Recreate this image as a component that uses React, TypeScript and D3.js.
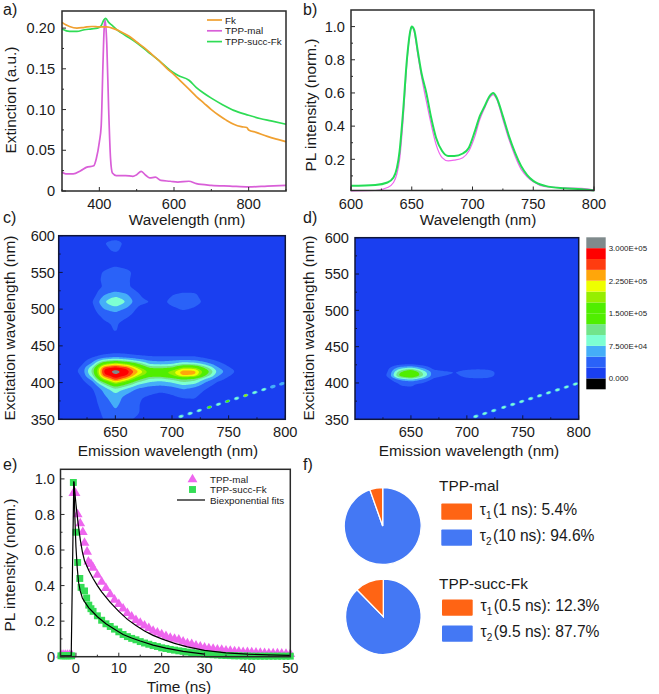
import * as d3 from 'd3';

const FONT = '"Liberation Sans", Arial, sans-serif';
const INK = '#2a2a2a';

// a) extinction spectra
const FK_NM = [300, 310, 320, 340, 360, 380, 400, 420, 440, 460, 480, 500, 520, 540, 560, 580, 600, 620, 640, 660, 680, 700, 720, 740, 760, 780, 795, 800, 820, 850, 880, 900];
const FK_EXT = [0.207, 0.204, 0.202, 0.2, 0.201, 0.202, 0.2015, 0.2015, 0.199, 0.195, 0.19, 0.183, 0.176, 0.168, 0.16, 0.151, 0.143, 0.134, 0.125, 0.116, 0.108, 0.1, 0.093, 0.087, 0.082, 0.079, 0.078, 0.075, 0.072, 0.067, 0.063, 0.0605];
const MAL_NM = [300, 310, 330, 350, 365, 385, 392, 400, 405, 410, 413, 416, 420, 425, 430, 435, 445, 470, 490, 500, 512, 525, 535, 550, 565, 590, 610, 640, 660, 700, 750, 800, 850, 900];
const MAL_EXT = [0.023, 0.021, 0.021, 0.025, 0.029, 0.031, 0.04, 0.06, 0.08, 0.16, 0.2, 0.21, 0.18, 0.1, 0.04, 0.022, 0.019, 0.019, 0.018, 0.02, 0.024, 0.019, 0.016, 0.017, 0.013, 0.012, 0.011, 0.012, 0.009, 0.007, 0.006, 0.005, 0.006, 0.007];
const SUCC_NM = [300, 320, 340, 360, 380, 395, 405, 412, 417, 425, 435, 450, 470, 500, 530, 560, 590, 610, 640, 660, 680, 700, 730, 760, 800, 830, 860, 900];
const SUCC_EXT = [0.199, 0.196, 0.196, 0.198, 0.199, 0.2, 0.203, 0.21, 0.212, 0.207, 0.203, 0.197, 0.191, 0.182, 0.171, 0.16, 0.148, 0.142, 0.136, 0.127, 0.12, 0.114, 0.106, 0.099, 0.093, 0.089, 0.086, 0.082];

// b) emission spectra
const PL_NM = [600, 620, 630, 635, 640, 643, 646, 649, 650, 652, 655, 658, 662, 666, 670, 675, 680, 685, 692, 697, 702, 706, 710, 714, 717, 720, 725, 730, 735, 740, 745, 750, 760, 775, 790, 800];
const PL_MAL = [0.01, 0.012, 0.03, 0.06, 0.2, 0.45, 0.78, 0.98, 1, 0.97, 0.83, 0.7, 0.55, 0.41, 0.29, 0.21, 0.19, 0.195, 0.21, 0.25, 0.34, 0.44, 0.51, 0.57, 0.59, 0.56, 0.44, 0.32, 0.22, 0.14, 0.095, 0.065, 0.035, 0.028, 0.025, 0.015];
const PL_SUCC = [0.04, 0.045, 0.06, 0.09, 0.25, 0.5, 0.8, 0.98, 1, 0.98, 0.85, 0.72, 0.6, 0.45, 0.33, 0.25, 0.22, 0.22, 0.235, 0.27, 0.37, 0.46, 0.52, 0.58, 0.6, 0.57, 0.46, 0.34, 0.24, 0.16, 0.105, 0.07, 0.04, 0.025, 0.02, 0.012];

// c, d) excitation-emission maps, values in thousands of counts
const EM_NM = [600, 610, 620, 630, 640, 650, 660, 670, 680, 690, 700, 710, 720, 730, 740, 750, 760, 770, 780, 790, 800];
const EXC_NM = [350, 360, 370, 380, 390, 395, 400, 405, 410, 415, 420, 425, 430, 435, 440, 450, 460, 470, 480, 490, 500, 510, 520, 530, 540, 550, 560, 570, 580, 590, 600];
const BG = [10, 10, 10, 10, 10, 10, 10, 10, 10, 10, 10, 10, 10, 10, 10, 10, 10, 10, 10, 10, 10];
const MAP_C = [
  [10, 10, 10, 12, 26, 30, 28, 22, 12, 10, 10, 10, 10, 10, 10, 10, 10, 10, 10, 10, 10],
  [10, 10, 10, 13, 30, 48, 34, 27, 12, 10, 10, 10, 10, 10, 10, 10, 10, 10, 10, 10, 10],
  [10, 10, 10, 15, 36, 56, 36, 27, 14, 10, 12, 13, 18, 10, 10, 10, 10, 10, 10, 10, 10],
  [10, 10, 11, 16, 45, 64, 40, 28, 22, 17, 21, 27, 27, 14, 10, 10, 10, 10, 10, 10, 10],
  [10, 10, 12, 22, 56, 88, 64, 42, 33, 29, 33, 47, 37, 23, 12, 10, 10, 10, 10, 10, 10],
  [10, 10, 12, 28, 76, 132, 96, 62, 50, 46, 52, 66, 56, 31, 15, 11, 10, 10, 10, 10, 10],
  [10, 10, 15, 40, 120, 205, 150, 92, 72, 64, 74, 96, 86, 46, 22, 12, 10, 10, 10, 10, 10],
  [10, 11, 20, 62, 200, 275, 225, 142, 95, 90, 108, 130, 115, 70, 36, 18, 11, 10, 10, 10, 10],
  [11, 13, 26, 95, 270, 298, 280, 200, 150, 150, 176, 235, 225, 126, 56, 28, 13, 10, 10, 10, 10],
  [12, 16, 30, 110, 285, 312, 290, 230, 166, 160, 190, 245, 240, 150, 70, 36, 16, 10, 10, 10, 10],
  [11, 14, 28, 100, 270, 288, 268, 195, 125, 120, 130, 190, 185, 115, 55, 28, 13, 10, 10, 10, 10],
  [10, 12, 20, 60, 180, 220, 190, 130, 75, 70, 75, 100, 95, 65, 36, 18, 11, 10, 10, 10, 10],
  [10, 11, 14, 38, 90, 110, 90, 66, 48, 44, 48, 54, 50, 36, 22, 12, 10, 10, 10, 10, 10],
  [10, 10, 12, 22, 36, 44, 38, 32, 28, 27, 27, 28, 27, 18, 12, 10, 10, 10, 10, 10, 10],
  [10, 10, 10, 13, 20, 24, 22, 18, 14, 12, 12, 12, 12, 10, 10, 10, 10, 10, 10, 10, 10],
  BG,
  BG,
  [10, 10, 10, 10, 14, 27, 12, 10, 10, 10, 10, 10, 10, 10, 10, 10, 10, 10, 10, 10, 10],
  [10, 10, 10, 10, 20, 29, 14, 10, 10, 10, 10, 10, 10, 10, 10, 10, 10, 10, 10, 10, 10],
  [10, 10, 10, 12, 30, 38, 28, 12, 10, 10, 10, 10, 10, 10, 10, 10, 10, 10, 10, 10, 10],
  [10, 10, 10, 18, 50, 60, 45, 20, 12, 12, 20, 28, 22, 12, 10, 10, 10, 10, 10, 10, 10],
  [10, 10, 10, 24, 72, 105, 72, 32, 26, 18, 32, 36, 33, 20, 10, 10, 10, 10, 10, 10, 10],
  [10, 10, 10, 14, 48, 62, 52, 28, 12, 10, 24, 30, 29, 12, 10, 10, 10, 10, 10, 10, 10],
  [10, 10, 10, 10, 28, 32, 30, 14, 10, 10, 10, 10, 10, 10, 10, 10, 10, 10, 10, 10, 10],
  [10, 10, 10, 14, 30, 38, 30, 12, 10, 10, 10, 10, 10, 10, 10, 10, 10, 10, 10, 10, 10],
  [10, 10, 10, 12, 28, 40, 34, 12, 10, 10, 10, 10, 10, 10, 10, 10, 10, 10, 10, 10, 10],
  [10, 10, 10, 10, 14, 22, 14, 10, 10, 10, 10, 10, 10, 10, 10, 10, 10, 10, 10, 10, 10],
  [10, 10, 10, 10, 10, 12, 10, 10, 10, 10, 10, 10, 10, 10, 10, 10, 10, 10, 10, 10, 10],
  [10, 10, 10, 10, 18, 30, 14, 10, 10, 10, 10, 10, 10, 10, 10, 10, 10, 10, 10, 10, 10],
  [10, 10, 10, 10, 24, 36, 18, 10, 10, 10, 10, 10, 10, 10, 10, 10, 10, 10, 10, 10, 10],
  BG,
];
const MAP_D = [
  BG, BG, BG, BG, BG,
  [10, 10, 10, 10, 24, 27, 12, 10, 10, 10, 10, 10, 10, 10, 10, 10, 10, 10, 10, 10, 10],
  [10, 10, 10, 10, 27, 30, 25, 10, 10, 10, 10, 10, 10, 10, 10, 10, 10, 10, 10, 10, 10],
  [10, 10, 10, 16, 55, 75, 48, 20, 12, 12, 18, 20, 18, 10, 10, 10, 10, 10, 10, 10, 10],
  [10, 10, 10, 30, 140, 185, 110, 35, 26, 20, 34, 38, 34, 14, 10, 10, 10, 10, 10, 10, 10],
  [10, 10, 10, 25, 120, 180, 100, 38, 30, 26, 36, 40, 36, 14, 10, 10, 10, 10, 10, 10, 10],
  [10, 10, 10, 22, 70, 90, 55, 18, 12, 12, 18, 20, 18, 10, 10, 10, 10, 10, 10, 10, 10],
  [10, 10, 10, 10, 22, 26, 18, 10, 10, 10, 10, 10, 10, 10, 10, 10, 10, 10, 10, 10, 10],
  BG, BG, BG, BG, BG, BG, BG, BG, BG, BG, BG, BG, BG, BG, BG, BG, BG, BG, BG,
];
const SPOT_EM = [708, 716, 724, 733, 741, 749, 757, 765, 773, 781, 789, 797];
const SPOT_C = [90, 90, 85, 150, 95, 170, 90, 175, 80, 85, 70, 65];
const SPOT_D = [85, 85, 85, 85, 85, 85, 85, 85, 85, 85, 80, 75];

const BAND_LOW = [-25, 0, 25, 50, 75, 100, 125, 150, 175, 200, 225, 250, 275, 300];
const BAND_COLORS = ['#000000', '#1a3ff0', '#2a62f8', '#45aef8', '#7dffd2', '#72e48a', '#50ee00', '#50ee00', '#96ee00', '#eeff00', '#ffa60a', '#ff3c10', '#ff0000', '#7f8a8c'];
const BAR_TICKS = [300, 225, 150, 75, 0];
const BAR_LABELS = ['3.000E+05', '2.250E+05', '1.500E+05', '7.500E+04', '0.000'];

// e) decay traces
const DECAY_T_MAL = [-3.5, -3, -2.5, -2, -1.5, -1, -0.6, -0.1, 0.4, 1, 1.6, 2, 2.6, 2.9, 3.5, 4, 5, 6, 7, 8, 9, 10, 11, 12, 13, 14, 15, 16, 17, 18, 19, 20, 21, 22, 23, 24, 25, 26, 27, 28, 29, 30, 31, 32, 33, 34, 35, 36, 37, 38, 39, 40, 41, 42, 43, 44, 45, 46, 47, 48, 49, 50];
const DECAY_MAL = [0.01, 0.01, 0.01, 0.01, 0.01, 0.01, 0.92, 0.92, 0.8, 0.75, 0.7, 0.64, 0.59, 0.535, 0.52, 0.5, 0.46, 0.42, 0.385, 0.35, 0.32, 0.295, 0.27, 0.245, 0.225, 0.205, 0.19, 0.175, 0.16, 0.145, 0.135, 0.125, 0.115, 0.105, 0.1, 0.095, 0.085, 0.075, 0.07, 0.062, 0.056, 0.05, 0.047, 0.044, 0.04, 0.038, 0.034, 0.032, 0.03, 0.028, 0.026, 0.025, 0.024, 0.022, 0.021, 0.02, 0.019, 0.018, 0.018, 0.017, 0.016, 0.015];
const DECAY_T_SUCC = [-3.5, -3, -2.5, -2, -1.5, -1, -0.6, 0, 0.4, 0.9, 1.2, 2, 2.5, 3, 3.5, 4, 5, 6, 7, 8, 9, 10, 11, 12, 13, 14, 15, 16, 17, 18, 19, 20, 21, 22, 23, 24, 25, 26, 27, 28, 29, 30, 31, 32, 33, 34, 35, 36, 37, 38, 39, 40, 41, 42, 43, 44, 45, 46, 47, 48, 49, 50];
const DECAY_SUCC = [0.005, 0.005, 0.005, 0.005, 0.005, 0.005, 0.98, 0.7, 0.53, 0.44, 0.39, 0.37, 0.33, 0.29, 0.27, 0.255, 0.23, 0.205, 0.185, 0.17, 0.155, 0.14, 0.125, 0.113, 0.103, 0.095, 0.085, 0.077, 0.07, 0.063, 0.057, 0.05, 0.046, 0.041, 0.037, 0.033, 0.03, 0.026, 0.023, 0.02, 0.017, 0.015, 0.013, 0.011, 0.01, 0.008, 0.007, 0.006, 0.005, 0.005, 0.004, 0.004, 0.003, 0.003, 0.003, 0.003, 0.003, 0.003, 0.003, 0.003, 0.003, 0.003];
const FIT_T_MAL = [-3.5, -1.1, -0.5, 0, 0.5, 1, 1.5, 2, 3, 4, 5, 6, 7, 8, 10, 12, 14, 16, 18, 20, 23, 26, 30, 35, 40, 45, 50];
const FIT_MAL = [0.005, 0.005, 0.985, 0.86, 0.75, 0.66, 0.59, 0.54, 0.485, 0.44, 0.4, 0.365, 0.335, 0.305, 0.255, 0.21, 0.175, 0.145, 0.12, 0.1, 0.075, 0.055, 0.036, 0.022, 0.014, 0.01, 0.008];
const FIT_T_SUCC = [-0.5, -0.2, 0, 0.3, 0.6, 1, 1.5, 2, 3, 4, 5, 7, 9, 11, 13, 15, 18, 21, 25, 30];
const FIT_SUCC = [0.985, 0.75, 0.62, 0.5, 0.42, 0.37, 0.33, 0.31, 0.275, 0.25, 0.225, 0.185, 0.155, 0.125, 0.105, 0.088, 0.065, 0.048, 0.03, 0.015];

// f) amplitude shares
const SHARE_MAL = [94.6, 5.4];
const SHARE_SUCC = [87.7, 12.3];
const SHARE_COLORS = ['#4478f4', '#ff6414'];

type Box = { l: number; r: number; t: number; b: number };
type Scale = d3.ScaleLinear<number, number>;

const linePath = (x: Scale, y: Scale, xs: number[], ys: number[]) =>
  d3.line<number>()
    .x((d) => x(d))
    .y((_, i) => y(ys[i]))
    .curve(d3.curveMonotoneX)(xs) ?? '';

function Label({ x, y, size = 15.4, anchor = 'middle', rotate, children }: any) {
  return (
    <text
      x={x}
      y={y}
      fontSize={size}
      textAnchor={anchor}
      fill="#1a1a1a"
      transform={rotate ? `rotate(-90 ${x} ${y})` : undefined}
    >
      {children}
    </text>
  );
}

function Frame({ box, x, y, xTicks, yTicks, xMinor = [], yMinor = [], xFmt, yFmt, xBase, yRight, frame = INK }: any) {
  return (
    <g>
      <rect x={box.l} y={box.t} width={box.r - box.l} height={box.b - box.t} fill="none" stroke={frame} strokeWidth={1.5} />
      {xTicks.map((t: number) => <line key={t} x1={x(t)} x2={x(t)} y1={box.b} y2={box.b - 4} stroke={frame} />)}
      {xMinor.map((t: number) => <line key={t} x1={x(t)} x2={x(t)} y1={box.b} y2={box.b - 2} stroke={frame} />)}
      {yTicks.map((t: number) => <line key={t} x1={box.l} x2={box.l + 4} y1={y(t)} y2={y(t)} stroke={frame} />)}
      {yMinor.map((t: number) => <line key={t} x1={box.l} x2={box.l + 2} y1={y(t)} y2={y(t)} stroke={frame} />)}
      {xTicks.map((t: number) => <Label key={t} x={x(t)} y={xBase} size={14.6}>{xFmt(t)}</Label>)}
      {yTicks.map((t: number) => <Label key={t} x={yRight} y={y(t) + 5.2} size={14.6} anchor="end">{yFmt(t)}</Label>)}
    </g>
  );
}

// Puts the read grid on a 1 nm lattice so the contour bands come out smooth
function fineGrid(map: number[][]) {
  const w = 201;
  const h = 251;
  const data = new Float64Array(w * h);
  const emAt = d3.scaleLinear().domain(EM_NM).range(EM_NM.map((_, i) => i));
  const excAt = d3.scaleLinear().domain(EXC_NM).range(EXC_NM.map((_, i) => i));
  for (let j = 0; j < h; j++) {
    const fy = excAt(350 + j);
    const y0 = Math.min(Math.floor(fy), EXC_NM.length - 2);
    for (let i = 0; i < w; i++) {
      const fx = emAt(600 + i);
      const x0 = Math.min(Math.floor(fx), EM_NM.length - 2);
      const top = d3.interpolateNumber(map[y0][x0], map[y0][x0 + 1])(fx - x0);
      const bot = d3.interpolateNumber(map[y0 + 1][x0], map[y0 + 1][x0 + 1])(fx - x0);
      data[j * w + i] = top + (bot - top) * (fy - y0);
    }
  }
  d3.blur2({ data, width: w, height: h }, 1);
  return { data, w, h };
}

function bandColor(v: number) {
  return BAND_COLORS[d3.bisectRight(BAND_LOW, v) - 1];
}

function EemMap({ id, box, map, spots }: { id: string; box: Box; map: number[][]; spots: number[] }) {
  const x = d3.scaleLinear().domain([600, 800]).range([box.l, box.r]);
  const y = d3.scaleLinear().domain([350, 600]).range([box.b, box.t]);
  const { data, w, h } = fineGrid(map);
  const levels = BAND_LOW.slice(2);
  const bands = d3.contours().size([w, h]).thresholds(levels)(Array.from(data));
  const path = d3.geoPath(d3.geoTransform({
    point(px: number, py: number) {
      (this as any).stream.point(x(600 + px - 0.5), y(350 + py - 0.5));
    },
  }));
  return (
    <g>
      <clipPath id={id}><rect x={box.l} y={box.t} width={box.r - box.l} height={box.b - box.t} /></clipPath>
      <g clipPath={`url(#${id})`}>
        <rect x={box.l} y={box.t} width={box.r - box.l} height={box.b - box.t} fill={BAND_COLORS[1]} />
        {bands.map((b) => <path key={b.value} d={path(b) ?? ''} fill={bandColor(b.value)} />)}
        {SPOT_EM.map((em, i) => (
          <g key={em} transform={`translate(${x(em)} ${y(em / 2)}) rotate(-14)`}>
            <ellipse rx={2.9} ry={1.6} fill={BAND_COLORS[3]} />
            <ellipse rx={1.9} ry={1.1} fill={bandColor(spots[i])} />
          </g>
        ))}
      </g>
    </g>
  );
}

function Pie({ cx, cy, r, shares }: { cx: number; cy: number; r: number; shares: number[] }) {
  const slices = d3.pie<number>().sort(null)(shares);
  const arc = d3.arc<d3.PieArcDatum<number>>().innerRadius(0).outerRadius(r);
  return (
    <g transform={`translate(${cx} ${cy})`}>
      {slices.map((s, i) => <path key={i} d={arc(s) ?? ''} fill={SHARE_COLORS[i]} stroke="#fff" strokeWidth={1.3} />)}
    </g>
  );
}

function TauRow({ x, y, colorIndex, sub, text }: any) {
  return (
    <g>
      <rect x={x} y={y - 11.5} width={30.7} height={16.2} rx={1} fill={SHARE_COLORS[colorIndex]} />
      <text x={x + 38.5} y={y} fontSize={15.6} fill="#1a1a1a">
        τ<tspan fontSize={10} dy={4}>{sub}</tspan><tspan dy={-4} dx={1.5}>{text}</tspan>
      </text>
    </g>
  );
}

export default function App() {
  const boxA = { l: 62, r: 286, t: 11, b: 191 };
  const ax = d3.scaleLinear().domain([300, 900]).range([boxA.l, boxA.r]);
  const ay = d3.scaleLinear().domain([0, 0.221]).range([boxA.b, boxA.t]);

  const boxB = { l: 351, r: 594, t: 10, b: 190.5 };
  const bx = d3.scaleLinear().domain([600, 800]).range([boxB.l, boxB.r]);
  const by = d3.scaleLinear().domain([0.012, 1.1]).range([boxB.b, boxB.t]);

  const boxC = { l: 58.7, r: 285.3, t: 235.7, b: 419.3 };
  const cx = d3.scaleLinear().domain([600, 800]).range([boxC.l, boxC.r]);
  const cy = d3.scaleLinear().domain([350, 600]).range([boxC.b, boxC.t]);

  const boxD = { l: 355, r: 578.7, t: 237.7, b: 419.3 };
  const dx = d3.scaleLinear().domain([600, 800]).range([boxD.l, boxD.r]);
  const dy = d3.scaleLinear().domain([350, 600]).range([boxD.b, boxD.t]);

  const barY = d3.scaleLinear().domain([-25, 325]).range([389.3, 237.3]);

  const boxE = { l: 60.5, r: 290.3, t: 469.3, b: 656.7 };
  const ex = d3.scaleLinear().domain([-3.6, 50]).range([boxE.l, boxE.r]);
  const ey = d3.scaleLinear().domain([0, 1.054]).range([boxE.b, boxE.t]);

  const triangle = d3.symbol(d3.symbolTriangle, 42)() ?? '';
  const square = d3.symbol(d3.symbolSquare, 48)() ?? '';
  const fitLine = d3.line<number>().x((d) => ex(d));

  return (
    <svg
      width={659}
      height={694}
      viewBox="0 0 659 694"
      fontFamily={FONT}
      style={{ position: 'absolute', left: 0, top: 0, display: 'block', background: '#fff' }}
    >
      {/* a */}
      <Label x={3} y={15} size={16} anchor="start">a)</Label>
      <path d={linePath(ax, ay, MAL_NM, MAL_EXT)} fill="none" stroke="#d95fd8" strokeWidth={1.7} />
      <path d={linePath(ax, ay, SUCC_NM, SUCC_EXT)} fill="none" stroke="#2fdc55" strokeWidth={1.7} />
      <path d={linePath(ax, ay, FK_NM, FK_EXT)} fill="none" stroke="#f0a030" strokeWidth={1.7} />
      <Frame
        box={boxA} x={ax} y={ay}
        xTicks={[400, 600, 800]} xMinor={[300, 500, 700, 900]}
        yTicks={[0, 0.05, 0.1, 0.15, 0.2]} yMinor={[0.025, 0.075, 0.125, 0.175]}
        xFmt={(t: number) => t} yFmt={(t: number) => (t === 0 ? '0' : t.toFixed(2))}
        xBase={209} yRight={55}
      />
      {[['Fk', '#f0a030'], ['TPP-mal', '#d95fd8'], ['TPP-succ-Fk', '#2fdc55']].map(([name, color], i) => (
        <g key={name}>
          <line x1={207} x2={222} y1={20 + i * 10.8} y2={20 + i * 10.8} stroke={color} strokeWidth={1.7} />
          <Label x={225} y={23.5 + i * 10.8} size={9.8} anchor="start">{name}</Label>
        </g>
      ))}
      <Label x={187} y={225}>Wavelength (nm)</Label>
      <Label x={16} y={100} rotate>Extinction (a.u.)</Label>

      {/* b */}
      <Label x={303} y={15} size={16} anchor="start">b)</Label>
      <path d={linePath(bx, by, PL_NM, PL_MAL)} fill="none" stroke="#ee66ee" strokeWidth={1.2} />
      <path d={linePath(bx, by, PL_NM, PL_SUCC)} fill="none" stroke="#22dd55" strokeWidth={2} />
      <Frame
        box={boxB} x={bx} y={by}
        xTicks={[600, 650, 700, 750, 800]} xMinor={[625, 675, 725, 775]}
        yTicks={[0.2, 0.4, 0.6, 0.8, 1]} yMinor={[0.1, 0.3, 0.5, 0.7, 0.9]}
        xFmt={(t: number) => t} yFmt={(t: number) => t.toFixed(1)}
        xBase={209} yRight={345}
      />
      <Label x={478} y={225}>Wavelength (nm)</Label>
      <Label x={316} y={105} rotate>PL intensity (norm.)</Label>

      {/* c */}
      <Label x={3} y={223} size={16} anchor="start">c)</Label>
      <EemMap id="map-c" box={boxC} map={MAP_C} spots={SPOT_C} />
      <Frame
        box={boxC} x={cx} y={cy} frame="#10163a"
        xTicks={[650, 700, 750, 800]} xMinor={[625, 675, 725, 775]}
        yTicks={[350, 400, 450, 500, 550, 600]} yMinor={[375, 425, 475, 525, 575]}
        xFmt={(t: number) => t} yFmt={(t: number) => t}
        xBase={437} yRight={55}
      />
      <Label x={168} y={456}>Emission wavelength (nm)</Label>
      <Label x={15} y={328} rotate>Excitation wavelength (nm)</Label>

      {/* d */}
      <Label x={303} y={223} size={16} anchor="start">d)</Label>
      <EemMap id="map-d" box={boxD} map={MAP_D} spots={SPOT_D} />
      <Frame
        box={boxD} x={dx} y={dy} frame="#10163a"
        xTicks={[650, 700, 750, 800]} xMinor={[625, 675, 725, 775]}
        yTicks={[350, 400, 450, 500, 550, 600]} yMinor={[375, 425, 475, 525, 575]}
        xFmt={(t: number) => t} yFmt={(t: number) => t}
        xBase={437} yRight={349}
      />
      <Label x={469} y={456}>Emission wavelength (nm)</Label>
      <Label x={314} y={328} rotate>Excitation wavelength (nm)</Label>
      {BAND_LOW.map((low, i) => (
        <rect key={low} x={586.3} y={barY(low + 25)} width={19.4} height={barY(low) - barY(low + 25)} fill={BAND_COLORS[i]} />
      ))}
      {BAR_TICKS.map((t, i) => (
        <Label key={t} x={608.7} y={barY(t) + 3} size={7.9} anchor="start">{BAR_LABELS[i]}</Label>
      ))}

      {/* e */}
      <Label x={3} y={470} size={16} anchor="start">e)</Label>
      {DECAY_T_MAL.map((t, i) => (
        <path key={t} d={triangle} transform={`translate(${ex(t)} ${ey(DECAY_MAL[i])})`} fill="#ee66ee" />
      ))}
      {DECAY_T_SUCC.map((t, i) => (
        <path key={t} d={square} transform={`translate(${ex(t)} ${ey(DECAY_SUCC[i])})`} fill="#33dd55" />
      ))}
      <path d={fitLine.y((_, i) => ey(FIT_MAL[i]))(FIT_T_MAL) ?? ''} fill="none" stroke="#000" strokeWidth={1.2} />
      <path d={fitLine.y((_, i) => ey(FIT_SUCC[i]))(FIT_T_SUCC) ?? ''} fill="none" stroke="#000" strokeWidth={1.2} />
      <Frame
        box={boxE} x={ex} y={ey}
        xTicks={[0, 10, 20, 30, 40, 50]} xMinor={[5, 15, 25, 35, 45]}
        yTicks={[0, 0.2, 0.4, 0.6, 0.8, 1]} yMinor={[0.1, 0.3, 0.5, 0.7, 0.9]}
        xFmt={(t: number) => t} yFmt={(t: number) => (t === 0 ? '0' : t.toFixed(1))}
        xBase={673} yRight={55}
      />
      <path d={triangle} transform="translate(192.5 479.5)" fill="#ee66ee" />
      <path d={square} transform="translate(192.5 489.5)" fill="#33dd55" />
      <line x1={177} x2={205} y1={500} y2={500} stroke="#000" strokeWidth={1.2} />
      <Label x={210} y={483} size={9.8} anchor="start">TPP-mal</Label>
      <Label x={210} y={493} size={9.8} anchor="start">TPP-succ-Fk</Label>
      <Label x={210} y={503.5} size={9.8} anchor="start">Biexponential fits</Label>
      <Label x={179} y={692}>Time (ns)</Label>
      <Label x={15} y={565} rotate>PL intensity (norm.)</Label>

      {/* f */}
      <Label x={303} y={470} size={16} anchor="start">f)</Label>
      <Pie cx={382.7} cy={526} r={38.5} shares={SHARE_MAL} />
      <Pie cx={383.3} cy={616.7} r={37.7} shares={SHARE_SUCC} />
      <Label x={439} y={491} anchor="start">TPP-mal</Label>
      <TauRow x={441.3} y={515} colorIndex={1} sub="1" text="(1 ns): 5.4%" />
      <TauRow x={441.3} y={541} colorIndex={0} sub="2" text="(10 ns): 94.6%" />
      <Label x={439} y={589} anchor="start">TPP-succ-Fk</Label>
      <TauRow x={442} y={611} colorIndex={1} sub="1" text="(0.5 ns): 12.3%" />
      <TauRow x={442} y={637} colorIndex={0} sub="2" text="(9.5 ns): 87.7%" />
    </svg>
  );
}
